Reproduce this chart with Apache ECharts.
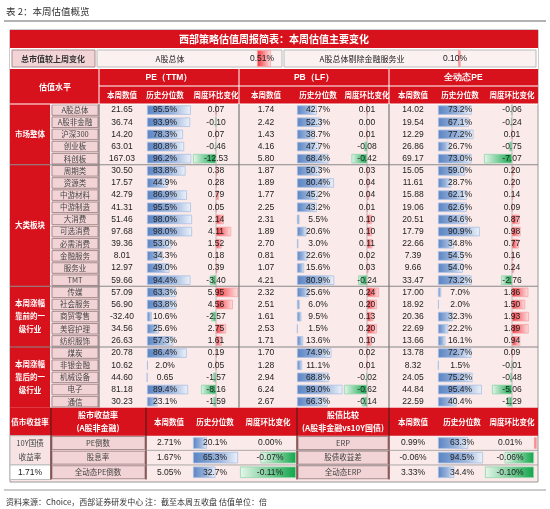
<!DOCTYPE html>
<html><head><meta charset="utf-8">
<script src="https://cdn.jsdelivr.net/npm/echarts@6/dist/echarts.min.js"></script>
<style>html,body{margin:0;padding:0;background:#fff}#c{width:550px;height:509px}</style>
</head><body><div id="c"></div>
<script>
// ---------- DATA ----------
const groups = ['市场整体','大类板块','本周涨幅\n靠前的一\n级行业','本周涨幅\n靠后的一\n级行业'];
const groupSizes = [5,10,5,5];
const names = ['A股总体','A股非金融','沪深300','创业板','科创板','周期类','资源类','中游材料','中游制造','大消费','可选消费','必需消费','金融服务','服务业','TMT','传媒','社会服务','商贸零售','美容护理','纺织服饰','煤炭','非银金融','机械设备','电子','通信'];
const peVal = ['21.65','36.74','14.20','63.01','167.03','30.50','17.57','42.79','41.31','51.46','97.68','39.36','8.01','12.97','59.66','57.09','56.90','-32.40','34.56','26.63','20.78','10.62','44.60','81.18','30.23'];
const pePct = ['95.5%','93.9%','78.3%','80.8%','96.2%','83.8%','44.9%','86.9%','95.5%','98.0%','98.0%','53.0%','34.3%','49.0%','94.4%','63.3%','63.8%','10.6%','25.6%','57.3%','86.4%','2.0%','0.65','89.4%','23.1%'];
const peChg = [0.07,-0.10,0.07,-0.46,-12.53,0.38,0.28,0.79,0.05,2.14,4.11,1.52,0.18,0.39,-3.40,5.95,4.56,-2.57,2.75,1.61,0.19,0.05,-1.57,-8.16,-1.59];
const pbVal = ['1.74','2.42','1.43','4.16','5.80','1.87','1.89','1.77','2.25','2.31','1.89','2.70','0.81','1.07','4.21','2.32','2.51','1.61','2.53','1.71','1.70','1.28','2.94','6.24','2.67'];
const pbPct = ['42.7%','52.3%','38.7%','47.7%','68.4%','50.3%','80.4%','45.2%','43.2%','5.5%','20.6%','3.0%','22.6%','15.6%','80.9%','25.6%','6.0%','9.5%','1.5%','13.6%','74.9%','11.1%','68.8%','99.0%','66.3%'];
const pbChg = [0.01,0.00,0.01,-0.08,-0.42,0.03,0.04,0.04,0.01,0.10,0.10,0.11,0.02,0.03,-0.24,0.24,0.20,0.13,0.20,0.10,0.02,0.01,-0.02,-0.62,-0.14];
const dpVal = ['14.02','19.54','12.29','26.86','69.17','15.05','11.61','15.88','19.06','20.51','17.79','22.66','7.39','9.66','33.47','17.00','18.92','20.36','22.69','13.66','13.78','8.32','24.05','44.84','22.59'];
const dpPct = ['73.2%','67.1%','77.2%','26.7%','73.0%','59.0%','28.7%','62.1%','62.6%','64.6%','90.9%','34.8%','54.5%','54.0%','73.2%','7.0%','2.0%','32.3%','22.2%','16.1%','72.7%','1.5%','75.2%','95.4%','40.4%'];
const dpChg = [-0.06,-0.24,0.01,-0.75,-7.07,0.20,0.20,0.14,0.09,0.87,0.98,0.77,0.16,0.24,-2.76,1.86,1.50,1.93,1.89,0.94,0.09,-0.01,-0.48,-5.06,-1.29];
const mktNames = ['A股总体','A股总体剔除金融服务业'];
const mktChg = [0.51,0.10];
const bondNames = ['PE倒数','股息率','全动态PE倒数'];
const bondVal = ['2.71%','1.67%','5.05%'];
const bondPct = [20.1,65.3,32.7];
const bondChg = [0.00,-0.07,-0.11];
const erpNames = ['ERP','股债收益差','全动态ERP'];
const erpVal = ['0.99%','-0.06%','3.33%'];
const erpPct = [63.3,94.5,34.4];
const erpChg = [0.01,-0.06,-0.10];
const yield10Y = '1.71%';
const subHeads = ['本周数值','历史分位数','周度环比变化'];

// ---------- LAYOUT ----------
const RED='#d7121d', PINK='#fbeaea', NAMEBG='#f2d4d6', NAMEBD='#a88a8c';
const CN='"Noto Sans CJK SC", sans-serif', NUM='"Liberation Sans", Arial, sans-serif';
const T0=104, RH=12.15, N=names.length;
const ry=i=>T0+RH*(i+0.5);
const secs=[
 {title:'PE（TTM）',x0:99,x1:239,valX:122,barX:147,txtX:165,zero:216,neg:23,pos:22,val:peVal,pct:pePct,chg:peChg},
 {title:'PB（LF）',x0:239,x1:389,valX:266,barX:297,txtX:318,zero:367,neg:23,pos:12,val:pbVal,pct:pbPct,chg:pbChg},
 {title:'全动态PE',x0:389,x1:538,valX:413,barX:438,txtX:460,zero:512,neg:28,pos:17,val:dpVal,pct:dpPct,chg:dpChg}];
const G=[];
const rect=(x,y,w,h,fill,stroke,lw,z)=>G.push({type:'rect',shape:{x,y,width:w,height:h},style:{fill,stroke:stroke||null,lineWidth:lw||1},z:z||0,silent:true});
const line=(x1,y1,x2,y2,c,w,z)=>G.push({type:'line',shape:{x1,y1,x2,y2},style:{stroke:c,lineWidth:w||1},z:z||5,silent:true});
const txt=(x,y,s,o)=>G.push(Object.assign({type:'text',x,y,z:20,silent:true,style:Object.assign({text:s,fill:'#222',font:'8px '+NUM,align:'center',verticalAlign:'middle'},o||{})}));
const cn=(sz,w)=>(w||'normal')+' '+sz+'px '+CN;

// page title & footer
txt(6,11,'表 2：本周估值概览',{align:'left',font:cn(9.5),fill:'#333'});
line(4,21,546,21,'#999',1.5);
line(4,490,546,490,'#bbb',1.5);
txt(6,502,'资料来源：Choice，西部证券研发中心 注：截至本周五收盘 估值单位：倍',{align:'left',font:cn(8),fill:'#333'});

// table frame
rect(10,30,528,452,PINK,'#999',1);
rect(10,30,528,18,RED);
txt(274,39,'西部策略估值周报简表：本周估值主要变化',{fill:'#fff',font:cn(10,'bold')});
// market row
rect(10,48,528,21,'#fff');
rect(12,50,83,17,NAMEBG,NAMEBD);
txt(53,58.5,'总市值较上周变化',{font:cn(8,'bold'),fill:'#333'});
rect(97,50,185,17,'#fbf1f1','#bbb'); rect(284,50,252,17,'#fbf1f1','#bbb');
txt(170,58.5,mktNames[0],{font:cn(8)}); txt(262,58.5,mktChg[0].toFixed(2)+'%',{font:'8.5px '+NUM});
txt(362,58.5,mktNames[1],{font:cn(8)}); txt(455,58.5,mktChg[1].toFixed(2)+'%',{font:'8.5px '+NUM});
// header
rect(10,69,528,35,RED);
txt(55,87,'估值水平',{fill:'#fff',font:cn(8,'bold')});
secs.forEach(s=>{
 txt((s.x0+s.x1)/2,78,s.title,{fill:'#fff',font:'bold 8.5px '+NUM});
 line(s.x0,69,s.x0,104,'#fff',1,6);
 line(s.x0,86,s.x1,86,'#fff',1,6);
 const xs=[s.valX,s.txtX,s.zero];
 subHeads.forEach((h,k)=>txt(xs[k],95,h,{fill:'#fff',font:cn(7.5,'bold')}));
});
line(10,104,538,104,'#fff',1,6);
// group labels
let acc=0;
groups.forEach((g,k)=>{
 const y0=T0+acc*RH,h=groupSizes[k]*RH;
 rect(10,y0,40,h,RED);
 txt(30,y0+h/2,g,{fill:'#fff',font:cn(7.5,'bold'),lineHeight:13});
 acc+=groupSizes[k];
 if(k<groups.length-1) line(10,T0+acc*RH,538,T0+acc*RH,'#888',1.2,6);
});
// names + values
names.forEach((n,i)=>{
 rect(52,T0+RH*i+0.8,46,RH-1.6,NAMEBG,NAMEBD);
 txt(75,ry(i),n,{font:cn(7.5),fill:'#444'});
 secs.forEach(s=>{
  txt(s.valX,ry(i),s.val[i],{font:'8.5px '+NUM});
  txt(s.txtX,ry(i),s.pct[i],{font:'8.5px '+NUM});
  txt(s.zero,ry(i),s.chg[i].toFixed(2),{font:'8.5px '+NUM});
 });
});
secs.forEach(s=>{ line(s.x0,T0,s.x0,T0+RH*N,'#777',1.2,6); line(s.zero,T0,s.zero,T0+RH*N,'#999',0.6,6); });
// bottom section
const B0=T0+RH*N, BH=28, BR=14.6;
rect(10,B0,528,BH,RED);
[51,146,297,389].forEach(x=>line(x,B0,x,B0+BH+3*BR,'#5a1a1a',1.2,6));
txt(30,B0+14,'债市收益率',{fill:'#fff',font:cn(7.5,'bold')});
txt(98,B0+14,'股市收益率\n(A股非金融)',{fill:'#fff',font:cn(8,'bold'),lineHeight:13});
txt(343,B0+14,'股债比较\n(A股非金融vs10Y国债)',{fill:'#fff',font:cn(8,'bold'),lineHeight:13});
[[169,215,268],[413,462,512]].forEach(xs=>subHeads.forEach((h,k)=>txt(xs[k],B0+14,h,{fill:'#fff',font:cn(7.5,'bold')})));
const by=j=>B0+BH+BR*(j+0.5);
rect(10,B0+BH,41,2*BR,'#f7e3e4','#bbb');
txt(30,B0+BH+BR,'10Y国债\n收益率',{font:cn(7.5),fill:'#444',lineHeight:14});
rect(10,B0+BH+2*BR,41,BR,'#fff','#bbb');
txt(30,by(2),yield10Y,{font:'8.5px '+NUM});
bondNames.forEach((n,j)=>{
 rect(52,B0+BH+BR*j+0.8,93,BR-1.6,NAMEBG,NAMEBD); txt(98,by(j),n,{font:cn(7.5),fill:'#444'});
 rect(298,B0+BH+BR*j+0.8,90,BR-1.6,NAMEBG,NAMEBD); txt(343,by(j),erpNames[j],{font:cn(7.5),fill:'#444'});
 txt(169,by(j),bondVal[j],{font:'8.5px '+NUM}); txt(215,by(j),bondPct[j].toFixed(1)+'%',{font:'8.5px '+NUM}); txt(270,by(j),bondChg[j].toFixed(2)+'%',{font:'8.5px '+NUM});
 txt(413,by(j),erpVal[j],{font:'8.5px '+NUM}); txt(462,by(j),erpPct[j].toFixed(1)+'%',{font:'8.5px '+NUM}); txt(510,by(j),erpChg[j].toFixed(2)+'%',{font:'8.5px '+NUM});
 if(j>0) line(146,B0+BH+BR*j,538,B0+BH+BR*j,'#999',0.8,6);
});

// ---------- BAR GRIDS ----------
const grids=[],xA=[],yA=[],series=[];
const LG=echarts.graphic.LinearGradient;
const blue=new LG(0,0,1,0,[{offset:0,color:'#5a84c3'},{offset:0.6,color:'#9db6dd'},{offset:1,color:'#eef3fa'}]);
const green=new LG(0,0,1,0,[{offset:0,color:'#e6f6ec'},{offset:1,color:'#12a54a'}]);
const red=new LG(0,0,1,0,[{offset:0,color:'#f4343c'},{offset:1,color:'#fde3e4'}]);
function addGrid(left,width,top,height,cats,min,max,data,color,bc,bw){
 const k=grids.length;
 grids.push({left,top,width,height,containLabel:false});
 xA.push({type:'value',gridIndex:k,min,max,show:false});
 yA.push({type:'category',gridIndex:k,data:cats,inverse:true,show:false});
 series.push({type:'bar',xAxisIndex:k,yAxisIndex:k,data,barWidth:bw,silent:true,z:3,
  itemStyle:{color,borderColor:bc,borderWidth:0.8}});
}
const H=RH*N;
secs.forEach(s=>{
 addGrid(s.barX,46,T0,H,names,0,100,s.pct.map(p=>parseFloat(p)),blue,'#a9c0e4',9.5);
 const mn=Math.min(...s.chg), mx=Math.max(...s.chg);
 addGrid(s.zero-s.neg,s.neg,T0,H,names,mn,0,s.chg.map(v=>v<0?v:null),green,'#8fd6a8',9.5);
 addGrid(s.zero,s.pos,T0,H,names,0,mx,s.chg.map(v=>v>0?v:null),red,'#f7a3a6',9.5);
});
const BT=B0+BH;
addGrid(193,69,BT,3*BR,bondNames,0,100,bondPct,blue,'#a9c0e4',11.5);
addGrid(240,56,BT,3*BR,bondNames,Math.min(...bondChg),0,bondChg.map(v=>v<0?v:null),green,'#8fd6a8',11.5);
addGrid(438,47.6,BT,3*BR,erpNames,0,100,erpPct,blue,'#a9c0e4',11.5);
addGrid(485,49,BT,3*BR,erpNames,Math.min(...erpChg),0,erpChg.map(v=>v<0?v:null),green,'#8fd6a8',11.5);
addGrid(534,3,BT,3*BR,erpNames,0,0.01,erpChg.map(v=>v>0?v:null),red,'#f7a3a6',11.5);
addGrid(257,14,50,17,['m'],0,mktChg[0],[mktChg[0]],red,'#f7a3a6',17);
addGrid(458,14,50,17,['m'],0,mktChg[0],[mktChg[1]],red,'#f7a3a6',17);

const chart=echarts.init(document.getElementById('c'),null,{renderer:'canvas'});
chart.setOption({animation:false,grid:grids,xAxis:xA,yAxis:yA,series,graphic:{elements:G}});
</script></body></html>
